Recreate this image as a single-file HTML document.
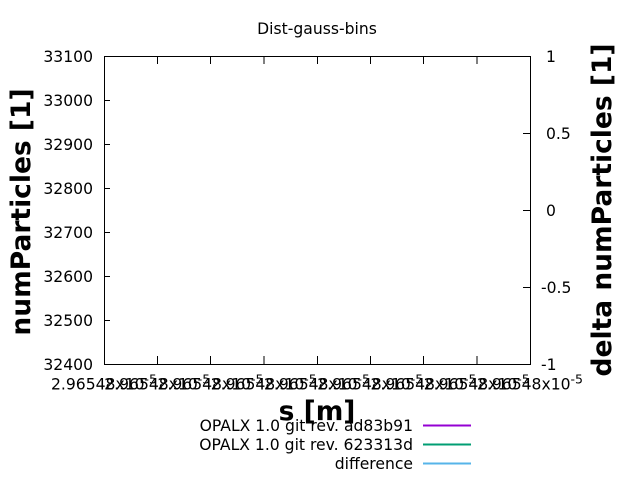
<!DOCTYPE html>
<html>
<head>
<meta charset="utf-8">
<style>
html,body{margin:0;padding:0;background:#fff;}
svg{display:block;}
text{font-family:"DejaVu Sans","Liberation Sans",sans-serif;fill:#000;}
.t{font-size:15.6px;}
.b{font-size:26.5px;font-weight:bold;}
</style>
</head>
<body>
<svg width="640" height="480" viewBox="0 0 640 480" xmlns="http://www.w3.org/2000/svg">
<rect x="0" y="0" width="640" height="480" fill="#fff"/>
<!-- title -->
<text class="t" x="317" y="34" text-anchor="middle">Dist-gauss-bins</text>

<!-- ticks -->
<g stroke="#000" stroke-width="1" fill="none">
  <path d="M104 56.5H110 M104 100.5H110 M104 144.5H110 M104 188.5H110 M104 232.5H110 M104 276.5H110 M104 320.5H110 M104 364.5H110"/>
  <path d="M523 56.5H530 M523 133.5H530 M523 210.5H530 M523 287.5H530 M523 364.5H530"/>
  <path d="M157.5 364V356 M210.5 364V356 M264 364V356 M317.5 364V356 M370.5 364V356 M423.5 364V356 M477 364V356"/>
  <path d="M157.5 56V64 M210.5 56V64 M264 56V64 M317.5 56V64 M370.5 56V64 M423.5 56V64 M477 56V64"/>
  <rect x="104.5" y="56.5" width="426" height="308"/>
</g>

<!-- left y tick labels -->
<text class="t" x="93" y="62" text-anchor="end">33100</text>
<text class="t" x="93" y="106" text-anchor="end">33000</text>
<text class="t" x="93" y="150" text-anchor="end">32900</text>
<text class="t" x="93" y="194" text-anchor="end">32800</text>
<text class="t" x="93" y="238" text-anchor="end">32700</text>
<text class="t" x="93" y="282" text-anchor="end">32600</text>
<text class="t" x="93" y="326" text-anchor="end">32500</text>
<text class="t" x="93" y="370" text-anchor="end">32400</text>

<!-- right y2 tick labels -->
<text class="t" x="546" y="62">1</text>
<text class="t" x="546" y="139">0.5</text>
<text class="t" x="546" y="216">0</text>
<text class="t" x="541" y="293">-0.5</text>
<text class="t" x="541" y="370">-1</text>

<!-- x tick labels -->
<text class="t" x="104" y="389.5" text-anchor="middle">2.96548x10<tspan font-size="12.5" dy="-6">-5</tspan></text>
<text class="t" x="157.25" y="389.5" text-anchor="middle">2.96548x10<tspan font-size="12.5" dy="-6">-5</tspan></text>
<text class="t" x="210.5" y="389.5" text-anchor="middle">2.96548x10<tspan font-size="12.5" dy="-6">-5</tspan></text>
<text class="t" x="263.75" y="389.5" text-anchor="middle">2.96548x10<tspan font-size="12.5" dy="-6">-5</tspan></text>
<text class="t" x="317" y="389.5" text-anchor="middle">2.96548x10<tspan font-size="12.5" dy="-6">-5</tspan></text>
<text class="t" x="370.25" y="389.5" text-anchor="middle">2.96548x10<tspan font-size="12.5" dy="-6">-5</tspan></text>
<text class="t" x="423.5" y="389.5" text-anchor="middle">2.96548x10<tspan font-size="12.5" dy="-6">-5</tspan></text>
<text class="t" x="476.75" y="389.5" text-anchor="middle">2.96548x10<tspan font-size="12.5" dy="-6">-5</tspan></text>
<text class="t" x="530" y="389.5" text-anchor="middle">2.96548x10<tspan font-size="12.5" dy="-6">-5</tspan></text>

<!-- axis labels -->
<text class="b" x="317" y="420" text-anchor="middle">s [m]</text>
<text class="b" transform="translate(30,212) rotate(-90)" text-anchor="middle">numParticles [1]</text>
<text class="b" transform="translate(611,210) rotate(-90)" text-anchor="middle">delta numParticles [1]</text>

<!-- legend -->
<text class="t" x="413" y="431" text-anchor="end">OPALX 1.0 git rev. ad83b91</text>
<text class="t" x="413" y="450" text-anchor="end">OPALX 1.0 git rev. 623313d</text>
<text class="t" x="413" y="469" text-anchor="end">difference</text>
<g stroke-width="2" fill="none">
  <path d="M423 425.5H471" stroke="#9400d3"/>
  <path d="M423 444.5H471" stroke="#009e73"/>
  <path d="M423 463.5H471" stroke="#56b4e9"/>
</g>
</svg>
</body>
</html>
